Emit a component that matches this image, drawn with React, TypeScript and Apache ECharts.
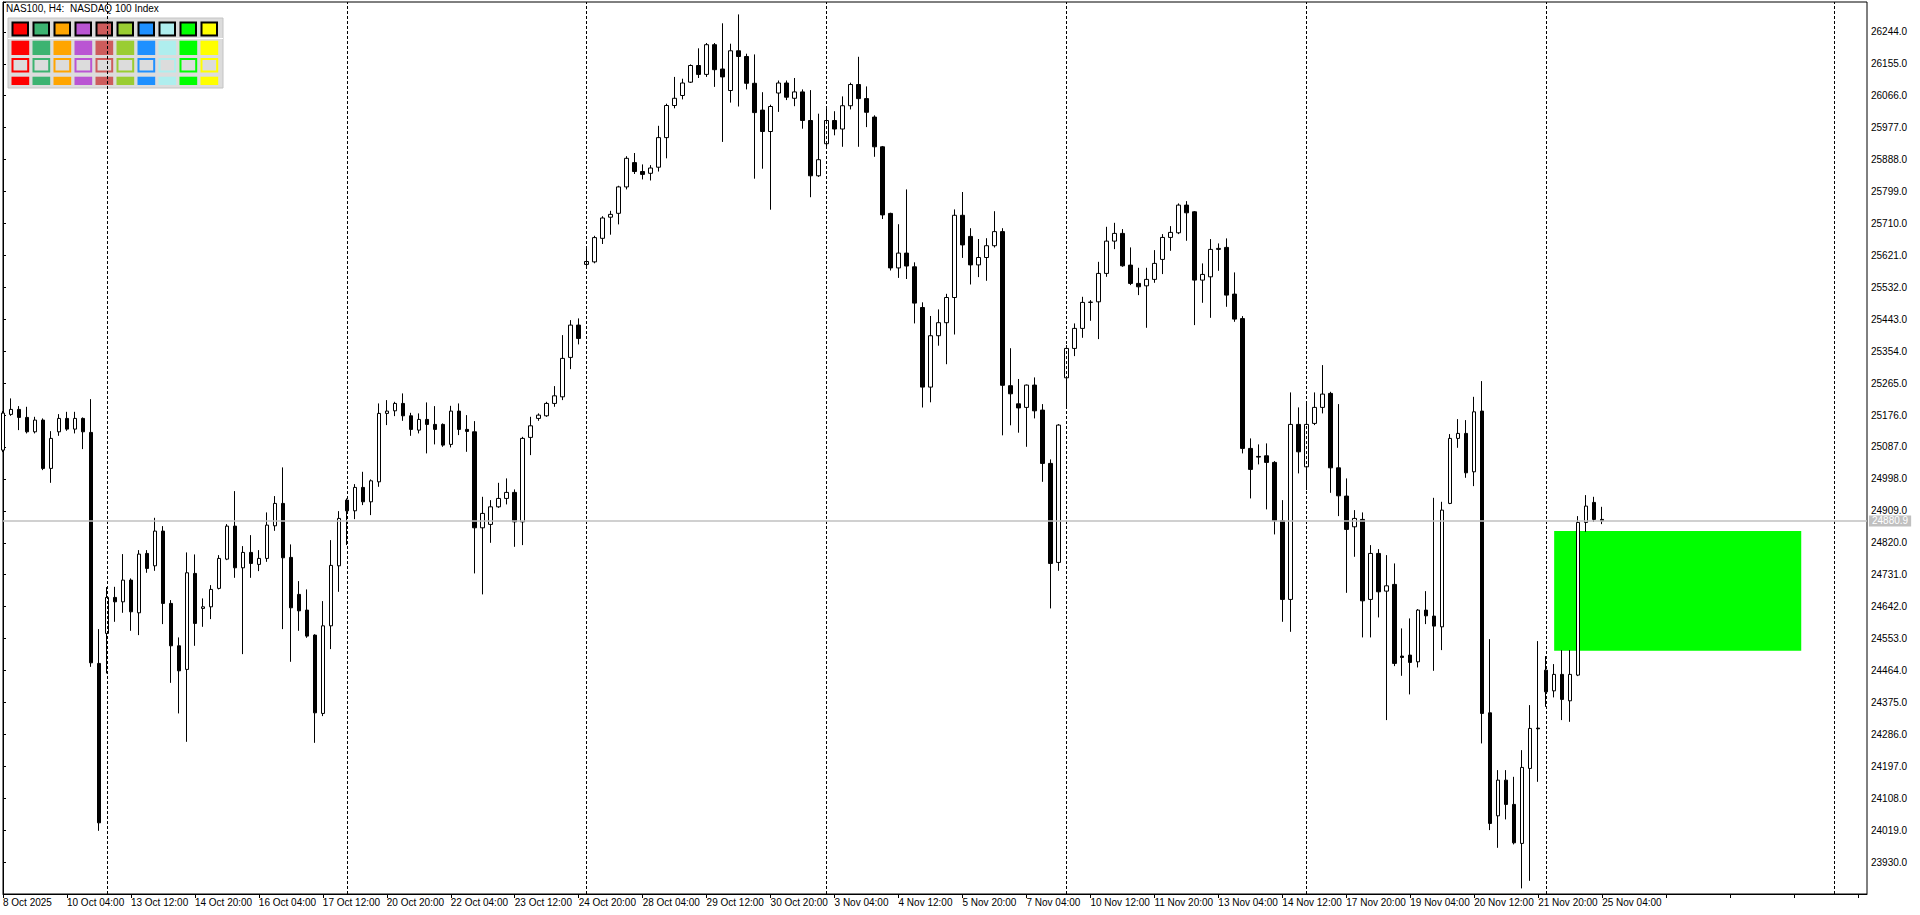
import React, { useEffect, useRef } from "react";
import * as echarts from "echarts";

const FONT = '"Liberation Sans", Arial, sans-serif';

// H4 bars of NAS100, index 0 = 8 Oct 2025 20:00 ... 200 = 25 Nov 2025 04:00
const opens = [
  25078.3, 25177.8, 25191.7, 25169.4, 25129.3, 25161.9, 25027.3, 25129.3, 25166.6, 25136.8,
  25166.6, 25127.6, 24483.7, 24567.3, 24667.7, 24655.4, 24715.9, 24624.8, 24790.3, 24755.8,
  24852.5, 24650.9, 24532.8, 24467.0, 24734.6, 24637.0, 24641.5, 24692.8, 24774.4, 24866.4,
  24750.2, 24793.1, 24759.7, 24776.4, 24867.3, 24929.7, 24779.2, 24676.1, 24632.3, 24562.6,
  24344.3, 24588.5, 24755.8, 24938.9, 24909.1, 24974.3, 24934.2, 24989.9, 25180.6, 25187.8,
  25208.4, 25173.9, 25134.0, 25163.8, 25149.9, 25149.9, 25094.2, 25187.0, 25136.0, 25129.3,
  24861.7, 24871.2, 24920.2, 24943.6, 24960.4, 24878.4, 25113.7, 25166.6, 25173.9, 25208.4,
  25226.8, 25336.7, 25426.7, 25595.9, 25602.9, 25668.6, 25727.5, 25738.3, 25811.9, 25879.6,
  25854.8, 25849.8, 25866.8, 25949.3, 26038.8, 26066.7, 26103.8, 26150.3, 26125.5, 26208.3,
  26140.5, 26080.6, 26191.3, 26175.4, 26100.7, 26026.0, 25966.3, 26073.6, 26101.5, 26058.9,
  26076.7, 25997.0, 25842.9, 25932.3, 25997.0, 25973.3, 26038.2, 26097.3, 26058.0, 26006.5,
  25923.7, 25738.0, 25586.1, 25627.4, 25589.2, 25475.8, 25253.9, 25397.1, 25433.4, 25503.6,
  25732.8, 25673.9, 25594.5, 25615.1, 25648.0, 25687.3, 25257.8, 25207.3, 25197.3, 25259.5,
  25189.8, 25041.2, 24765.2, 25279.8, 25361.7, 25417.5, 25490.0, 25491.6, 25570.8, 25660.8,
  25682.3, 25593.9, 25542.9, 25536.2, 25554.1, 25609.8, 25671.1, 25684.0, 25761.2, 25742.5,
  25552.1, 25561.3, 25637.7, 25643.3, 25513.1, 25444.8, 25083.0, 25060.7, 25062.4, 25044.0,
  24881.2, 24662.1, 25149.9, 25031.7, 25152.7, 25197.3, 25236.3, 25028.9, 24950.1, 24864.5,
  24885.1, 24662.1, 24790.3, 24685.2, 24703.9, 24504.1, 24506.9, 24488.2, 24632.3, 24615.6,
  24585.7, 24929.7, 25110.9, 25124.8, 25017.8, 25187.0, 24346.0, 24058.9, 24158.4, 24090.7,
  23982.0, 24191.0, 24303.4, 24465.0, 24407.3, 24453.1, 24379.5, 24451.1, 24876.7, 24932.5,
  24885.1,
];

const closes = [
  25181.4, 25191.7, 25169.4, 25129.3, 25161.9, 25027.3, 25110.9, 25166.6, 25136.8, 25166.6,
  25129.3, 24485.4, 24039.4, 24667.7, 24655.4, 24715.9, 24627.6, 24788.4, 24748.5, 24852.5,
  24650.9, 24532.8, 24463.1, 24736.3, 24595.2, 24641.5, 24690.0, 24776.4, 24866.4, 24750.2,
  24793.1, 24762.4, 24776.4, 24869.2, 24929.7, 24778.1, 24638.7, 24630.3, 24559.8, 24346.0,
  24588.5, 24756.9, 24887.9, 24909.1, 24974.3, 24934.2, 24992.7, 25180.6, 25187.0, 25208.4,
  25173.9, 25136.0, 25163.8, 25149.9, 25136.0, 25092.2, 25187.0, 25136.0, 25130.4, 24861.7,
  24901.8, 24920.2, 24943.6, 24960.4, 24878.4, 25110.9, 25146.0, 25175.8, 25208.4, 25229.6,
  25333.9, 25426.7, 25389.6, 25604.0, 25670.6, 25725.2, 25735.3, 25811.9, 25891.6, 25854.8,
  25846.8, 25864.6, 25949.3, 26038.8, 26058.9, 26101.5, 26150.3, 26125.5, 26208.3, 26138.6,
  26118.5, 26191.3, 26175.4, 26100.7, 26019.0, 25966.3, 26036.0, 26101.5, 26061.9, 26076.7,
  25997.0, 25842.9, 25887.7, 25997.0, 25973.3, 26038.2, 26097.3, 26058.0, 26019.9, 25923.7,
  25733.9, 25586.1, 25627.4, 25591.4, 25488.0, 25253.9, 25397.1, 25433.4, 25503.6, 25732.8,
  25650.2, 25594.5, 25615.1, 25648.0, 25687.3, 25258.9, 25235.2, 25195.9, 25259.5, 25187.8,
  25041.2, 24762.4, 25148.0, 25361.7, 25417.5, 25490.0, 25490.8, 25570.8, 25660.8, 25682.3,
  25592.0, 25542.9, 25533.5, 25554.1, 25598.7, 25671.1, 25685.1, 25761.2, 25739.7, 25552.1,
  25568.0, 25637.7, 25640.5, 25510.3, 25443.4, 25083.0, 25024.5, 25058.8, 25044.0, 24881.2,
  24662.1, 25149.9, 25073.5, 25149.9, 25197.3, 25234.4, 25028.9, 24950.9, 24857.2, 24887.9,
  24658.2, 24790.3, 24683.3, 24700.0, 24483.7, 24500.4, 24486.5, 24632.3, 24616.4, 24587.7,
  24911.0, 25110.9, 25124.8, 25015.0, 25185.0, 24344.3, 24037.7, 24158.4, 24090.7, 23983.7,
  24193.8, 24302.5, 24301.4, 24404.5, 24453.1, 24383.4, 24453.1, 24876.7, 24922.2, 24885.1,
  24880.9,
];

const highs = [
  25187.0, 25222.4, 25200.9, 25199.0, 25171.1, 25166.6, 25131.2, 25178.6, 25185.0, 25185.0,
  25169.4, 25220.4, 24579.3, 24696.4, 24697.2, 24788.4, 24720.6, 24799.5, 24799.5, 24889.6,
  24866.4, 24660.2, 24556.2, 24793.1, 24787.5, 24664.9, 24702.0, 24785.6, 24872.0, 24964.0,
  24810.7, 24841.3, 24799.5, 24904.6, 24950.1, 25030.1, 24815.4, 24713.1, 24690.0, 24565.0,
  24657.4, 24827.4, 24908.2, 24943.6, 24983.5, 25017.8, 24996.6, 25208.4, 25217.6, 25212.9,
  25236.3, 25182.2, 25180.6, 25211.2, 25200.9, 25152.7, 25201.7, 25208.4, 25175.8, 25159.1,
  24948.1, 24938.9, 24987.1, 24999.4, 24968.7, 25115.3, 25171.1, 25180.6, 25212.9, 25256.7,
  25398.8, 25440.6, 25445.4, 25640.8, 25675.6, 25730.2, 25745.3, 25815.0, 25897.5, 25906.4,
  25874.6, 25872.7, 25982.2, 26043.8, 26118.5, 26113.5, 26153.4, 26198.2, 26213.0, 26213.0,
  26267.9, 26211.1, 26292.7, 26183.2, 26181.2, 26075.9, 26041.0, 26108.5, 26108.5, 26115.5,
  26083.7, 26081.7, 26016.0, 26031.8, 26022.9, 26064.2, 26102.4, 26174.6, 26092.0, 26011.5,
  25926.0, 25740.0, 25707.9, 25804.9, 25601.7, 25490.2, 25452.1, 25470.5, 25513.9, 25749.2,
  25797.7, 25696.8, 25666.7, 25668.9, 25744.2, 25696.8, 25362.3, 25276.5, 25261.0, 25280.9,
  25206.5, 25052.4, 25150.7, 25370.9, 25431.4, 25505.6, 25496.4, 25603.1, 25700.7, 25711.8,
  25694.3, 25643.3, 25586.4, 25586.4, 25635.7, 25680.3, 25702.6, 25765.9, 25772.3, 25744.5,
  25598.7, 25666.4, 25654.4, 25668.4, 25573.6, 25451.8, 25110.9, 25094.2, 25097.0, 25047.6,
  24938.9, 25239.1, 25197.3, 25208.4, 25239.1, 25315.2, 25240.8, 25206.5, 24999.4, 24911.0,
  24904.6, 24813.5, 24802.3, 24785.6, 24762.4, 24581.3, 24609.1, 24635.1, 24685.2, 24945.3,
  24934.2, 25122.9, 25164.7, 25161.9, 25226.8, 25270.6, 24551.4, 24186.3, 24186.3, 24167.6,
  24242.0, 24367.5, 24545.9, 24504.1, 24481.8, 24520.8, 24520.8, 24894.3, 24952.8, 24948.1,
  24920.2,
];

const lows = [
  25072.7, 25173.9, 25134.0, 25124.8, 25124.8, 25022.5, 24987.1, 25118.1, 25132.1, 25124.8,
  25081.1, 24474.2, 24017.1, 24455.8, 24599.7, 24624.8, 24574.6, 24562.6, 24736.3, 24741.8,
  24593.3, 24429.6, 24344.3, 24265.2, 24532.8, 24585.7, 24607.2, 24690.0, 24771.6, 24722.3,
  24509.6, 24722.3, 24741.0, 24766.9, 24853.3, 24579.3, 24488.2, 24574.6, 24555.1, 24262.4,
  24336.8, 24523.6, 24683.3, 24813.5, 24885.9, 24925.0, 24897.1, 24976.0, 25148.0, 25173.0,
  25159.9, 25118.1, 25124.8, 25069.1, 25094.2, 25087.5, 25085.8, 25120.1, 25073.5, 24734.6,
  24676.1, 24819.9, 24917.4, 24926.9, 24808.7, 24813.5, 25064.3, 25159.9, 25171.1, 25199.0,
  25217.6, 25304.0, 25372.9, 25585.9, 25599.0, 25652.8, 25678.7, 25707.4, 25804.9, 25847.9,
  25832.8, 25829.8, 25854.8, 25891.6, 26031.0, 26055.8, 26101.5, 26115.5, 26118.5, 26090.7,
  25937.3, 26046.9, 26036.0, 26083.7, 25834.8, 25862.6, 25748.4, 26021.0, 26053.9, 26036.9,
  25974.1, 25783.2, 25839.8, 25925.6, 25955.7, 25923.7, 26027.9, 25923.7, 25978.6, 25895.8,
  25722.4, 25578.9, 25558.3, 25555.2, 25431.4, 25197.0, 25211.5, 25369.3, 25317.7, 25400.5,
  25614.0, 25539.9, 25560.5, 25550.2, 25643.0, 25119.5, 25147.4, 25126.8, 25087.5, 25166.6,
  24989.9, 24637.0, 24741.8, 25199.0, 25340.3, 25391.3, 25438.7, 25387.7, 25561.3, 25638.5,
  25589.2, 25538.2, 25510.3, 25419.2, 25544.6, 25568.9, 25633.8, 25680.3, 25661.7, 25426.7,
  25488.9, 25447.0, 25578.1, 25477.7, 25435.9, 25069.1, 24943.6, 25038.4, 24913.0, 24843.3,
  24599.7, 24571.8, 25013.3, 24966.8, 25148.0, 25180.6, 24959.2, 24894.3, 24680.5, 24780.9,
  24556.2, 24556.2, 24611.9, 24325.7, 24476.2, 24449.2, 24397.3, 24472.5, 24593.3, 24463.1,
  24520.8, 24927.7, 25084.7, 25001.1, 24977.9, 24260.7, 24019.1, 23969.7, 24048.9, 23979.2,
  23856.6, 23877.7, 24153.7, 24362.7, 24389.0, 24325.7, 24320.9, 24448.3, 24850.5, 24878.4,
  24872.0,
];

// time labels, one every 8 bars starting at bar 0
const timeLabels = [
  "8 Oct 2025", "10 Oct 04:00", "13 Oct 12:00", "14 Oct 20:00", "16 Oct 04:00", "17 Oct 12:00",
  "20 Oct 20:00", "22 Oct 04:00", "23 Oct 12:00", "24 Oct 20:00", "28 Oct 04:00", "29 Oct 12:00",
  "30 Oct 20:00", "3 Nov 04:00", "4 Nov 12:00", "5 Nov 20:00", "7 Nov 04:00", "10 Nov 12:00",
  "11 Nov 20:00", "13 Nov 04:00", "14 Nov 12:00", "17 Nov 20:00", "19 Nov 04:00", "20 Nov 12:00",
  "21 Nov 20:00", "25 Nov 04:00",
];

// week separators (bar index)
const separatorBars = [13, 43, 73, 103, 133, 163, 193, 229];

const bidPrice = 24880.9;
const priceLabelFirst = 23930;
const priceLabelLast = 26244;
const priceStep = 89;

// demand zone (bar index range, price range)
const zoneBars = [194, 224.9];
const zonePrices = [24853, 24519];

const paletteColors = [
  "#ff0000", "#3cb371", "#ffa500", "#ba55d3", "#cd5c5c",
  "#9acd32", "#1e90ff", "#afeeee", "#00ff00", "#ffff00",
];

function buildPalette() {
  const els: any[] = [];
  els.push({
    type: "rect",
    z: 0,
    shape: { x: 8, y: 18, width: 215, height: 70 },
    style: { fill: "#dcdcdc", stroke: "#c4c4c4", lineWidth: 1 },
  });
  els.push({
    type: "line",
    z: 0,
    shape: { x1: 8, y1: 38.5, x2: 223, y2: 38.5 },
    style: { stroke: "#ffffff", lineWidth: 1 },
  });
  paletteColors.forEach((c, k) => {
    const x = 11.5 + 21 * k;
    els.push({
      type: "rect",
      z: 0,
      shape: { x: x + 1, y: 22.5, width: 15.5, height: 13 },
      style: { fill: c, stroke: "#000", lineWidth: 2 },
    });
    els.push({
      type: "rect",
      z: 0,
      shape: { x, y: 40.7, width: 17.7, height: 14.3 },
      style: { fill: c },
    });
    els.push({
      type: "rect",
      z: 0,
      shape: { x: x + 1, y: 59, width: 15.7, height: 12.5 },
      style: { fill: "#dcdcdc", stroke: c, lineWidth: 2 },
    });
    els.push({
      type: "rect",
      z: 0,
      shape: { x, y: 76.7, width: 17.7, height: 8.3 },
      style: { fill: c },
    });
  });
  els.push({
    type: "text",
    z: 1,
    x: 6,
    y: 3,
    style: {
      text: "NAS100, H4:  NASDAQ 100 Index",
      fontSize: 10,
      fontFamily: FONT,
      fill: "#000",
      textVerticalAlign: "top",
    },
  });
  return els;
}

export default function App() {
  const ref = useRef<HTMLDivElement>(null);

  useEffect(() => {
    if (!ref.current) return;
    const chart = echarts.init(ref.current, null, { renderer: "svg" });

    const candles = opens.map((o, i) => [i, o, closes[i], lows[i], highs[i]]);

    const markLineData: any[] = separatorBars.map((b) => ({
      xAxis: b,
      lineStyle: { color: "#000", type: [3, 2], width: 1 },
      label: { show: false },
    }));
    markLineData.push({
      yAxis: bidPrice,
      lineStyle: { color: "#c0c0c0", type: "solid", width: 1.5 },
      label: {
        show: true,
        position: "end",
        distance: 2,
        formatter: bidPrice.toFixed(1),
        backgroundColor: "#c0c0c0",
        color: "#ffffff",
        fontSize: 10,
        fontFamily: FONT,
        padding: [1, 3, 0, 3],
      },
    });

    const option: any = {
      animation: false,
      backgroundColor: "#ffffff",
      grid: {
        left: 2,
        top: 2,
        right: 53,
        bottom: 21,
        show: true,
        borderColor: "#000",
        borderWidth: 1,
        backgroundColor: "transparent",
        containLabel: false,
      },
      xAxis: {
        type: "value",
        min: 0,
        max: 233.125,
        interval: 8,
        axisLine: { show: true, lineStyle: { color: "#000", width: 1 } },
        axisTick: { show: true, length: 4, lineStyle: { color: "#000" } },
        axisLabel: {
          show: true,
          align: "left",
          margin: 3,
          color: "#000",
          fontSize: 10,
          fontFamily: FONT,
          showMinLabel: true,
          showMaxLabel: false,
          formatter: (v: number) => {
            const k = v / 8;
            if (Math.abs(k - Math.round(k)) > 1e-6) return "";
            return timeLabels[Math.round(k)] ?? "";
          },
        },
        splitLine: { show: false },
      },
      yAxis: {
        type: "value",
        position: "right",
        min: priceLabelFirst - priceStep,
        max: 26327.3,
        interval: priceStep,
        axisLine: { show: true, lineStyle: { color: "#000", width: 1 } },
        axisTick: { show: true, length: 3, lineStyle: { color: "#000" } },
        axisLabel: {
          show: true,
          margin: 4,
          color: "#000",
          fontSize: 10,
          fontFamily: FONT,
          formatter: (v: number) => {
            const k = (v - priceLabelFirst) / priceStep;
            if (Math.abs(k - Math.round(k)) > 1e-6) return "";
            if (v < priceLabelFirst - 0.01 || v > priceLabelLast + 0.01) return "";
            return v.toFixed(1);
          },
        },
        splitLine: { show: false },
      },
      graphic: { elements: buildPalette() },
      series: [
        {
          type: "line",
          data: [],
          z: 1,
          silent: true,
          markArea: {
            silent: true,
            label: { show: false },
            itemStyle: { color: "#00ff00", opacity: 1 },
            data: [
              [
                { xAxis: zoneBars[0], yAxis: zonePrices[0] },
                { xAxis: zoneBars[1], yAxis: zonePrices[1] },
              ],
            ],
          },
          markLine: {
            silent: true,
            symbol: "none",
            animation: false,
            label: { show: false },
            data: markLineData,
          },
        },
        {
          type: "candlestick",
          z: 3,
          data: candles,
          encode: { x: 0, y: [1, 2, 3, 4] },
          barWidth: 4,
          clip: true,
          itemStyle: {
            color: "#ffffff",
            color0: "#000000",
            borderColor: "#000000",
            borderColor0: "#000000",
            borderWidth: 1,
          },
        },
      ],
    };

    chart.setOption(option);
    return () => chart.dispose();
  }, []);

  return (
    <div
      ref={ref}
      style={{ position: "fixed", left: 0, top: 0, width: 1920, height: 915, background: "#fff" }}
    />
  );
}
